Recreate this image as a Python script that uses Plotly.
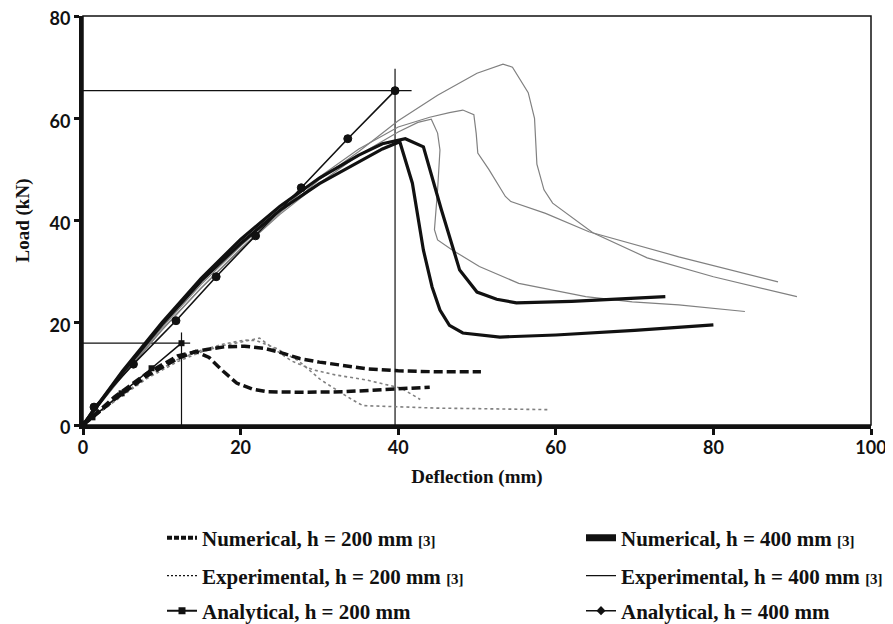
import plotly.graph_objects as go

# ---------------- data ----------------
# Numerical, h = 200 mm [3] (two curves)
num200_a_x = [0, 4, 8, 12, 14.3, 16, 17.8, 19.5, 21.5, 23.4, 28, 33, 38, 44]
num200_a_y = [0, 5, 9.5, 13, 14.4, 13.2, 10.5, 8.2, 7.0, 6.5, 6.4, 6.5, 6.9, 7.4]
num200_b_x = [0, 4, 8, 12, 15, 18, 20.5, 23, 25, 27.5, 30, 33, 36, 40, 45, 50.5]
num200_b_y = [0, 5.5, 10, 13.5, 14.6, 15.3, 15.4, 15.0, 14.2, 13.0, 12.3, 11.6, 11.0, 10.6, 10.4, 10.4]

# Numerical, h = 400 mm [3] (two curves)
num400_a_x = [0, 5, 10, 15, 20, 25, 30, 35, 38, 40.9, 43.2, 45.5, 47.8, 50, 52.5, 55, 62, 68, 73.9]
num400_a_y = [0, 10.5, 20, 28.7, 36.3, 42.8, 48.3, 52.8, 55, 56, 54.4, 42, 30.3, 26, 24.6, 23.9, 24.2, 24.7, 25.1]
num400_b_x = [0, 5, 10, 15, 20, 25, 30, 35, 38, 40.2, 41.8, 43.2, 44.3, 45.3, 46.5, 48.2, 52.9, 60, 70, 80]
num400_b_y = [0, 10.2, 19.6, 28.2, 35.5, 42, 47.2, 51.5, 54, 55.4, 47.3, 34.2, 27, 22.5, 19.5, 18, 17.2, 17.6, 18.5, 19.6]

# Experimental, h = 200 mm [3] (two curves)
exp200_a_x = [0, 4, 8, 12, 15, 18, 20.5, 22, 24.5, 27.3, 30.2, 32.5, 34.1, 35.5, 40, 45, 50, 55, 59.3]
exp200_a_y = [0, 4.8, 9.3, 12.8, 14.6, 15.9, 16.6, 16.5, 15, 12.6, 8.8, 6.5, 5.0, 3.8, 3.5, 3.3, 3.2, 3.1, 3.0]
exp200_b_x = [0, 4, 8, 12, 15, 18, 20, 22.4, 24.4, 26.5, 29.2, 32, 36, 40.4, 42.8]
exp200_b_y = [0, 4.6, 9.0, 12.4, 14.3, 15.6, 16.2, 17.0, 14.7, 12.5, 10.8, 9.8, 8.8, 7.2, 5.0]

# Experimental, h = 400 mm [3] (three curves)
exp400_a_x = [0, 5, 10, 15, 20, 25, 30, 35, 40, 45, 50, 53.3, 54.5, 56.5, 57.3, 57.6, 58.5, 59.6, 64.7, 71.6, 80, 90.6]
exp400_a_y = [0, 9.5, 18.5, 26.8, 34.5, 41.5, 48, 53.5, 59.5, 64.5, 68.8, 70.6, 70, 65, 60, 51, 46, 43.4, 37.6, 32.7, 29, 25.1]
exp400_b_x = [0, 5, 10, 15, 20, 25, 30, 35, 40, 44, 46.5, 48.2, 49.6, 49.9, 50.1, 51.5, 53.6, 54.3, 58.7, 64.2, 75.6, 88.2]
exp400_b_y = [0, 9.8, 19, 27.5, 35, 42, 48.5, 54, 58.3, 60.2, 61.1, 61.6, 60.7, 57, 53.2, 50, 44.7, 43.7, 41.4, 37.8, 32.9, 28]
exp400_c_x = [0, 5, 10, 15, 20, 25, 30, 35, 40, 42.5, 44.2, 45, 45.3, 45, 44.6, 45, 46.9, 50.3, 55.3, 63.8, 69.7, 75.6, 84]
exp400_c_y = [0, 9.6, 18.6, 26.8, 34.3, 41.2, 47.3, 52.8, 57.3, 59.2, 59.8, 57.1, 53.8, 46, 38.2, 36.2, 34.2, 31, 27.7, 25.1, 24.1, 23.5, 22.2]

# Analytical, h = 200 mm
ana200_x = [0, 1.2, 4.9, 8.7, 12.5]
ana200_y = [0, 1.5, 6.2, 11.1, 16.0]
# Analytical, h = 400 mm
ana400_x = [0, 1.4, 6.4, 11.8, 16.9, 21.9, 27.7, 33.6, 39.6]
ana400_y = [0, 3.5, 11.9, 20.4, 29.0, 37.0, 46.4, 56.0, 65.4]

# guide lines marking the analytical peaks
guide200_h_x = [0, 13.6]
guide200_h_y = [16.0, 16.0]
guide200_v_x = [12.5, 12.5]
guide200_v_y = [0, 18.1]
guide400_h_x = [0, 41.7]
guide400_h_y = [65.4, 65.4]
guide400_v_x = [39.6, 39.6]
guide400_v_y = [0, 69.7]

x_ticks = [0, 20, 40, 60, 80, 100]
y_ticks = [0, 20, 40, 60, 80]

legend_labels = [
    "Numerical, h = 200 mm <span style='font-size:15px'>[3]</span>",
    "Numerical, h = 400 mm <span style='font-size:15px'>[3]</span>",
    "Experimental, h = 200 mm <span style='font-size:15px'>[3]</span>",
    "Experimental, h = 400 mm <span style='font-size:15px'>[3]</span>",
    "Analytical, h = 200 mm",
    "Analytical, h = 400 mm",
]

# ---------------- figure ----------------
fig = go.Figure()
BLACK = "#111111"
GREY = "#808080"

def add(x, y, name, line, legend, show, mode="lines", marker=None):
    fig.add_trace(go.Scatter(x=x, y=y, mode=mode, name=name, line=line,
                             marker=marker, legend=legend, showlegend=show,
                             hoverinfo="skip"))

# guides (no legend)
for gx, gy in [(guide200_h_x, guide200_h_y), (guide200_v_x, guide200_v_y),
               (guide400_h_x, guide400_h_y), (guide400_v_x, guide400_v_y)]:
    add(gx, gy, "", dict(color=BLACK, width=1.2), "legend", False)

# experimental 400 (thin grey solid)
for ex, ey in [(exp400_a_x, exp400_a_y), (exp400_b_x, exp400_b_y), (exp400_c_x, exp400_c_y)]:
    add(ex, ey, "", dict(color=GREY, width=1.2), "legend4", False)
# experimental 200 (dotted)
for ex, ey in [(exp200_a_x, exp200_a_y), (exp200_b_x, exp200_b_y)]:
    add(ex, ey, "", dict(color=GREY, width=1.6, dash="dot"), "legend3", False)

# numerical curves
for nx, ny in [(num200_a_x, num200_a_y), (num200_b_x, num200_b_y)]:
    add(nx, ny, "", dict(color=BLACK, width=3.5, dash="9px,4px"), "legend", False)
for nx, ny in [(num400_a_x, num400_a_y), (num400_b_x, num400_b_y)]:
    add(nx, ny, "", dict(color=BLACK, width=3.2), "legend2", False)

# analytical
add(ana400_x, ana400_y, "", dict(color=BLACK, width=1.6), "legend6", False,
    mode="lines+markers", marker=dict(symbol="circle", size=8, color=BLACK,
                                      line=dict(color=BLACK, width=1)))
add(ana200_x, ana200_y, "", dict(color=BLACK, width=1.6), "legend5", False,
    mode="lines+markers", marker=dict(symbol="square", size=6, color=BLACK))

# legend entries (empty data, styled samples)
add([None], [None], legend_labels[0], dict(color=BLACK, width=4, dash="5px,2px"), "legend", True)
add([None], [None], legend_labels[1], dict(color=BLACK, width=7), "legend2", True)
add([None], [None], legend_labels[2], dict(color=BLACK, width=1.2, dash="2px,2px"), "legend3", True)
add([None], [None], legend_labels[3], dict(color=BLACK, width=1.2), "legend4", True)
add([None], [None], legend_labels[4], dict(color=BLACK, width=2), "legend5", True,
    mode="lines+markers", marker=dict(symbol="square", size=7, color=BLACK))
add([None], [None], legend_labels[5], dict(color=BLACK, width=1.5), "legend6", True,
    mode="lines+markers", marker=dict(symbol="diamond", size=7, color=BLACK))

serif = "Liberation Serif"

# the page body adds an 8 px offset, so the figure is 885 x 616
W, H, OFF = 885, 616, 8
PL, PR, PT, PB = 83, 871, 16, 425   # plot-area edges in page pixels

def leg(xpx, ypx):
    return dict(xref="paper", yref="paper",
                x=(xpx - PL) / (PR - PL), y=(PB - ypx) / (PB - PT),
                xanchor="left", yanchor="middle", orientation="v",
                bgcolor="rgba(0,0,0,0)", itemwidth=30,
                font=dict(family=serif, size=21, color=BLACK, weight="bold"))

col_l, col_r = 162, 581
row1, row2, row3 = 538, 576, 611

tickfont = dict(family="Lato", size=18, color=BLACK, weight="bold")
fig.update_layout(
    width=W, height=H,
    margin=dict(l=PL - OFF, r=(OFF + W) - PR, t=PT - OFF, b=(OFF + H) - PB, autoexpand=False),
    paper_bgcolor="white", plot_bgcolor="white",
    legend=leg(col_l, row1), legend2=leg(col_r, row1),
    legend3=leg(col_l, row2), legend4=leg(col_r, row2),
    legend5=leg(col_l, row3), legend6=leg(col_r, row3),
    xaxis=dict(range=[0, 100], tickvals=x_ticks, showgrid=False, zeroline=False,
               showline=True, linecolor=BLACK, linewidth=4,
               ticks="outside", ticklen=6, tickwidth=3, tickcolor=BLACK,
               tickfont=tickfont, ticklabeloverflow="allow", ticklabelstandoff=-3,
               title=dict(text="Deflection (mm)", standoff=14,
                          font=dict(family=serif, size=19, color=BLACK, weight="bold"))),
    yaxis=dict(range=[0, 80], tickvals=y_ticks, showgrid=False, zeroline=False,
               showline=True, linecolor=BLACK, linewidth=4,
               ticks="outside", ticklen=5, tickwidth=3, tickcolor=BLACK,
               tickfont=tickfont, ticklabeloverflow="allow", ticklabelshift=3,
               title=dict(text="Load (kN)", standoff=16,
                          font=dict(family=serif, size=19, color=BLACK, weight="bold"))),
    shapes=[dict(type="rect", xref="x domain", yref="y domain", x0=0, x1=1, y0=0, y1=1,
                 line=dict(color=BLACK, width=1.5), layer="below")],
)

fig.write_html("out.html")
